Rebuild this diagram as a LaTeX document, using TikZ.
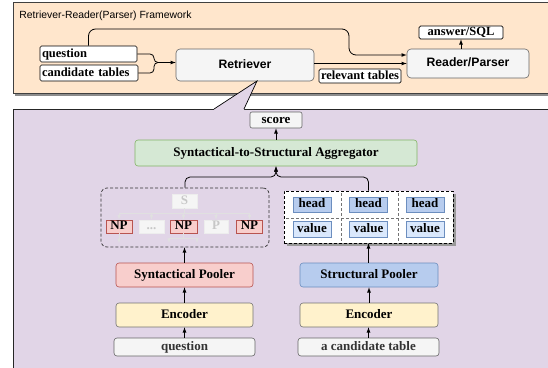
\documentclass[tikz,border=0pt]{standalone}
\usepackage{fontspec}
\setmainfont{Liberation Serif}
\setsansfont{Liberation Sans}
\usetikzlibrary{positioning}
\definecolor{orangebg}{HTML}{FFE6CC}
\definecolor{purplebg}{HTML}{E1D5E7}
\definecolor{greyfill}{HTML}{F5F5F5}
\definecolor{greyline}{HTML}{666666}
\definecolor{greenfill}{HTML}{D5E8D4}
\definecolor{greenline}{HTML}{82B366}
\definecolor{redfill}{HTML}{F8CECC}
\definecolor{redline}{HTML}{B85450}
\definecolor{yellowfill}{HTML}{FFF2CC}
\definecolor{bluefill}{HTML}{DAE8FC}
\definecolor{bluedark}{HTML}{B7CCEE}
\definecolor{blueline}{HTML}{6C8EBF}

\begin{document}
\begin{tikzpicture}[x=1pt, y=-1pt, >=latex, line width=0.8pt,
    every node/.style={inner sep=0pt, text height=8.5pt, text depth=2.5pt},
    lbl/.style={font=\fontsize{13}{15}\selectfont\bfseries},
    tag/.style={draw, fill=white, rounded corners=1.5pt, line width=0.7pt, align=left, inner xsep=2pt,
        minimum height=16pt, font=\fontsize{12.5}{14}\selectfont\bfseries},
    module/.style={draw=greyline, fill=greyfill, rounded corners=4pt, line width=0.6pt,
        font=\sffamily\fontsize{12.2}{14}\selectfont\bfseries},
    block/.style={lbl, draw, rounded corners=3pt, line width=0.6pt, minimum height=24pt},
    np/.style={lbl, draw=redline, fill=redfill, line width=0.6pt, minimum width=26pt, minimum height=13pt},
    ghost/.style={lbl, draw=white!93!black, fill=white!96!black, text=black!22, line width=0.5pt,
        minimum width=25pt, minimum height=13pt},
    treeline/.style={draw=white!88!black, line width=0.6pt},
    cell/.style={lbl, draw=blueline, line width=0.6pt, minimum width=38pt},
    dashbox/.style={dash pattern=on 3pt off 2pt, line width=0.7pt},
    ]

\useasboundingbox (0,0) rectangle (548,367);
\clip (0,0) rectangle (548,367);

% framework panel
\fill[black!45] (15,4) rectangle (560,95.5);
\filldraw[fill=orangebg, draw=black!75, line width=0.6pt] (13,2) rectangle (560,93);
\node[anchor=west, font=\sffamily\fontsize{10.4}{12}\selectfont] (title) at (19,15) {Retriever-Reader(Parser) Framework};

\node[tag, text width=93pt] (qin) at (88.5,54) {question};
\node[tag, text width=94pt] (cin) at (89,73) {candidate tables};
\node[module, minimum width=138pt, minimum height=32pt] (retr) at (245,65) {Retriever};
\node[module, minimum width=122pt, minimum height=29pt] (reader) at (468,63.5) {Reader/Parser};
\node[tag, align=center, minimum width=84pt, minimum height=13pt] (ans) at (461,32.5) {answer/SQL};
\node[tag, align=center, minimum width=82pt, minimum height=14pt] (rel) at (360,76) {relevant tables};

\coordinate (merge) at (163,62.5);
\draw[rounded corners=4pt] (qin.east) -| (154,62.5) -- (merge);
\draw[rounded corners=4pt] (cin.east) -| (154,62.5) -- (merge);
\draw[->] (merge) -- (retr.west |- merge);
\draw[->] (retr.east |- reader.west) -- (reader.west);
\draw[->, rounded corners=7pt] (qin.north) |- (349,29) |- ([yshift=8.5pt]reader.west);
\draw[->] (reader.north -| ans.south) -- (ans.south);

% detail panel
\filldraw[fill=purplebg, draw=black!85, line width=0.8pt] (13,109) rectangle (560,380);
\coordinate (tip) at (257,81);
\coordinate (bl) at (214,109);
\coordinate (br) at (244,109);
\fill[purplebg] (tip) -- (bl) -- ([yshift=-1pt]bl) -- ([yshift=-1pt]br) -- (br) -- cycle;
\draw[line width=0.7pt] (bl) -- (tip) -- (br);

\node[lbl, draw=greyline, fill=greyfill, rounded corners=2pt, line width=0.6pt,
    minimum width=52pt, minimum height=16pt] (score) at (276,120) {score};
\node[block, draw=greenline, fill=greenfill, minimum width=282pt, minimum height=26pt] (agg) at (276,153) {Syntactical-to-Structural Aggregator};

\node[dashbox, draw=black!80, rounded corners=6pt, minimum width=168pt, minimum height=59pt] (synbox) at (185,217.5) {};
\node[ghost, minimum height=14pt] (sroot) at (184.5,201) {S};
\node[np] (np1) at (119,226.5) {NP};
\node[ghost] (dots) at (151.5,226.5) {...};
\node[np, minimum width=27pt] (np2) at (183.5,226.5) {NP};
\node[ghost, minimum width=24pt] (pp) at (216,226.5) {P};
\node[np] (np3) at (249.5,226.5) {NP};

\draw[treeline] (sroot.south) -- (sroot.south |- 0,213);
\draw[treeline] (np1.north |- 0,213) -- (np3.north |- 0,213);
\draw[treeline, ->] (np1.north |- 0,213) -- (np1.north);
\draw[treeline, ->] (dots.north |- 0,213) -- (dots.north);
\draw[treeline, ->] (np2.north |- 0,213) -- (np2.north);
\draw[treeline, ->] (pp.north |- 0,213) -- (pp.north);
\draw[treeline, ->] (np3.north |- 0,213) -- (np3.north);
\draw[treeline, ->] (np1.south) -- ++(0,10);
\draw[treeline] (np2.south) -- ++(0,5) coordinate (np2b);
\draw[treeline, ->] (np2b) -| (169,243);
\draw[treeline, ->] (np2b) -| (197,243);

\fill[black!40] (287,194) rectangle (456,246);
\node[dashbox, draw, fill=white, minimum width=169pt, minimum height=52pt] (tabbox) at (368.5,217) {};
\draw[dashbox, black!55] (341,193) -- (341,241);
\draw[dashbox, black!55] (398,193) -- (398,241);
\draw[dashbox, black!55] (286,218) -- (451,218);
\node[cell, fill=bluedark, minimum height=15pt] (h1) at (312,204.5) {head};
\node[cell, fill=bluedark, minimum height=15pt] (h2) at (368.5,204.5) {head};
\node[cell, fill=bluedark, minimum height=15pt] (h3) at (425,204.5) {head};
\node[cell, fill=bluefill, minimum height=16pt] (v1) at (312,229) {value};
\node[cell, fill=bluefill, minimum height=16pt] (v2) at (368.5,229) {value};
\node[cell, fill=bluefill, minimum height=16pt] (v3) at (425,229) {value};

\node[block, draw=redline, fill=redfill, minimum width=137pt] (synpool) at (184.5,275) {Syntactical Pooler};
\node[block, draw=blueline, fill=bluedark, minimum width=138pt] (strpool) at (369,275) {Structural Pooler};
\node[block, draw=black!55, fill=yellowfill, minimum width=137pt] (enc1) at (184.5,315) {Encoder};
\node[block, draw=black!55, fill=yellowfill, minimum width=138pt] (enc2) at (369,315) {Encoder};
\node[block, draw=greyline, fill=greyfill, text=black!80, minimum width=141pt, minimum height=18pt] (qsrc) at (184.5,347) {question};
\node[block, draw=greyline, fill=greyfill, text=black!80, minimum width=141pt, minimum height=18pt] (tsrc) at (368.5,347) {a candidate table};

\draw[->] (qsrc.north) -- (enc1.south);
\draw[->] (enc1.north) -- (synpool.south);
\draw[->] (synpool.north) -- (synpool.north |- synbox.south);
\draw[->] (tsrc.north) -- (tsrc.north |- enc2.south);
\draw[->] (enc2.north) -- (strpool.south);
\draw[->] (strpool.north -| tabbox.south) -- (tabbox.south);

\coordinate (join) at (276,177);
\draw[->, rounded corners=5pt] (synbox.north) |- (join) -- (agg.south);
\draw[->, rounded corners=5pt] (tabbox.north) |- (join) -- (agg.south);
\draw[->] (agg.north) -- (score.south);

\end{tikzpicture}
\end{document}
